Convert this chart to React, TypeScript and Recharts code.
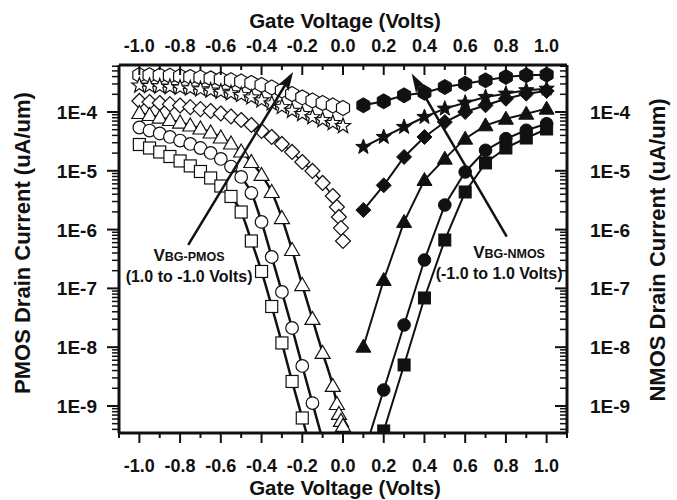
import React from "react";
import { LineChart, Line, XAxis, YAxis, ReferenceLine, ReferenceDot } from "recharts";

const FONT = '"Liberation Sans", Arial, Helvetica, sans-serif';
const INK = "#111111";

// Gate voltage sweeps (V). The PMOS sweep is refined just below 0 V.
const PMOS_V = [
  -1.0, -0.95, -0.9, -0.85, -0.8, -0.75, -0.7, -0.65, -0.6, -0.55, -0.5,
  -0.45, -0.4, -0.35, -0.3, -0.25, -0.2, -0.15, -0.1, -0.05, 0.0,
];
const PMOS_V_FINE = [
  -1.0, -0.95, -0.9, -0.85, -0.8, -0.75, -0.7, -0.65, -0.6, -0.55, -0.5,
  -0.45, -0.4, -0.35, -0.3, -0.25, -0.2, -0.15, -0.1, -0.05, -0.03, -0.02, -0.01, 0.0,
];
const NMOS_V = [0.1, 0.2, 0.3, 0.4, 0.5, 0.6, 0.7, 0.8, 0.9, 1.0];

// PMOS drain current (uA/um), one curve per back-gate bias
const P_SQUARE = [
  2.8e-5, 2.44e-5, 2.09e-5, 1.75e-5, 1.47e-5, 1.21e-5, 9.73e-6, 7.55e-6, 5.51e-6,
  3.66e-6, 1.99e-6, 6.4e-7, 1.94e-7, 4.92e-8, 1.18e-8, 2.61e-9, 6.25e-10, 1.47e-10,
];
const P_CIRCLE = [
  5.45e-5, 4.84e-5, 4.31e-5, 3.76e-5, 3.27e-5, 2.86e-5, 2.44e-5, 2.01e-5, 1.59e-5,
  1.18e-5, 7.85e-6, 4.19e-6, 1.35e-6, 3.42e-7, 8.69e-8, 2.12e-8, 4.79e-9, 1.12e-9, 2.64e-10,
];
const P_TRIANGLE = [
  9.62e-5, 8.89e-5, 8.05e-5, 7.31e-5, 6.62e-5, 5.89e-5, 5.24e-5, 4.48e-5, 3.68e-5,
  2.91e-5, 2.13e-5, 1.41e-5, 8.49e-6, 4.36e-6, 1.57e-6, 4.5e-7, 1.14e-7, 3.02e-8,
  7.97e-9, 2.19e-9, 1.08e-9, 7.31e-10, 5.56e-10, 4.57e-10,
];
const P_DIAMOND = [
  1.54e-4, 1.48e-4, 1.42e-4, 1.36e-4, 1.29e-4, 1.21e-4, 1.12e-4, 1.04e-4, 9.42e-5,
  8.38e-5, 7.31e-5, 6.01e-5, 4.75e-5, 3.76e-5, 2.86e-5, 2.09e-5, 1.41e-5, 9.93e-6,
  6.21e-6, 3.72e-6, 2.42e-6, 1.64e-6, 1.06e-6, 6.4e-7,
];
const P_STAR = [
  2.82e-4, 2.77e-4, 2.72e-4, 2.66e-4, 2.59e-4, 2.52e-4, 2.43e-4, 2.32e-4, 2.21e-4,
  2.08e-4, 1.95e-4, 1.77e-4, 1.58e-4, 1.4e-4, 1.22e-4, 1.05e-4, 9.25e-5, 8.16e-5,
  7.31e-5, 6.5e-5, 5.78e-5,
];
const P_HEXAGON = [
  4.26e-4, 4.23e-4, 4.18e-4, 4.13e-4, 4.05e-4, 3.95e-4, 3.85e-4, 3.73e-4, 3.6e-4,
  3.46e-4, 3.3e-4, 3.11e-4, 2.88e-4, 2.61e-4, 2.32e-4, 2.02e-4, 1.77e-4, 1.57e-4,
  1.42e-4, 1.29e-4, 1.17e-4,
];

// NMOS drain current (uA/um), back gate stepped -1.0 -> 1.0 V
const N_SQUARE = [2.83e-11, 3.76e-10, 4.98e-9, 6.87e-8, 6.65e-7, 4.36e-6, 1.36e-5, 2.44e-5, 3.61e-5, 5.14e-5];
const N_CIRCLE = [1.47e-10, 1.87e-9, 2.39e-8, 3.04e-7, 2.62e-6, 9.55e-6, 2.23e-5, 3.52e-5, 4.89e-5, 6.32e-5];
const N_TRIANGLE = [1.02e-8, 1.39e-7, 1.35e-6, 6.98e-6, 1.61e-5, 3.52e-5, 5.94e-5, 7.69e-5, 9.35e-5, 1.14e-4];
const N_DIAMOND = [2.15e-6, 5.66e-6, 1.72e-5, 3.76e-5, 6.76e-5, 1.0e-4, 1.3e-4, 1.68e-4, 2.05e-4, 2.28e-4];
const N_STAR = [2.54e-5, 3.76e-5, 5.56e-5, 8.22e-5, 1.14e-4, 1.44e-4, 1.8e-4, 2.05e-4, 2.34e-4, 2.49e-4];
const N_HEXAGON = [1.3e-4, 1.52e-4, 1.92e-4, 2.13e-4, 2.66e-4, 3.03e-4, 3.46e-4, 3.94e-4, 4.21e-4, 4.31e-4];

// axes
const V_DOMAIN: [number, number] = [-1.1, 1.1];
const V_TICKS = [
  -1.1, -1.0, -0.9, -0.8, -0.7, -0.6, -0.5, -0.4, -0.3, -0.2, -0.1, 0.0,
  0.1, 0.2, 0.3, 0.4, 0.5, 0.6, 0.7, 0.8, 0.9, 1.0, 1.1,
];
const I_DOMAIN: [number, number] = [3.47e-10, 6.3e-4];
const I_MAJOR = [1e-9, 1e-8, 1e-7, 1e-6, 1e-5, 1e-4];
const I_MINOR: number[] = [];
for (let e = -10; e <= -4; e++) {
  for (let m = 2; m <= 9; m++) {
    const v = m * Math.pow(10, e);
    if (v > I_DOMAIN[0] && v < I_DOMAIN[1]) I_MINOR.push(v);
  }
}
const I_TICKS = [...I_MAJOR, ...I_MINOR].sort((a, b) => a - b);

const toPoints = (vs: number[], is: number[]) => is.map((i, k) => ({ v: vs[k], i }));

type Shape = "square" | "circle" | "triangle" | "diamond" | "star" | "hexagon";

function Marker({ cx, cy, shape, filled }: { cx: number; cy: number; shape: Shape; filled: boolean }) {
  const fill = filled ? INK : "#ffffff";
  const common = { fill, stroke: INK, strokeWidth: filled ? 1 : 1.2 };
  if (shape === "square") {
    const h = 6;
    return <rect x={cx - h} y={cy - h} width={2 * h} height={2 * h} {...common} />;
  }
  if (shape === "circle") return <circle cx={cx} cy={cy} r={6.3} {...common} />;
  if (shape === "triangle") {
    return <polygon points={`${cx},${cy - 7.5} ${cx + 7.5},${cy + 5.5} ${cx - 7.5},${cy + 5.5}`} {...common} />;
  }
  if (shape === "diamond") {
    const r = 7.5;
    return <polygon points={`${cx},${cy - r} ${cx + r},${cy} ${cx},${cy + r} ${cx - r},${cy}`} {...common} />;
  }
  const pts: string[] = [];
  if (shape === "star") {
    for (let k = 0; k < 10; k++) {
      const r = k % 2 === 0 ? 8 : 3.3;
      const a = -Math.PI / 2 + (k * Math.PI) / 5;
      pts.push(`${cx + r * Math.cos(a)},${cy + r * Math.sin(a)}`);
    }
  } else {
    for (let k = 0; k < 6; k++) {
      const a = -Math.PI / 2 + (k * Math.PI) / 3;
      pts.push(`${cx + 7.5 * Math.cos(a)},${cy + 7.5 * Math.sin(a)}`);
    }
  }
  return <polygon points={pts.join(" ")} {...common} />;
}

const markerDot = (shape: Shape, filled: boolean) => (p: any) => {
  const key = `${shape}-${filled ? "n" : "p"}-${p.index}`;
  if (p.cx == null || p.cy == null || !isFinite(p.cx) || !isFinite(p.cy)) return <g key={key} />;
  return (
    <g key={key}>
      <Marker cx={p.cx} cy={p.cy} shape={shape} filled={filled} />
    </g>
  );
};

// bottom ticks point out (down), top ticks point in (also down)
function VTick({ x, y, payload, side }: any) {
  const v = payload.value as number;
  const major = Math.round(v * 10) % 2 === 0;
  const len = major ? 10 : 5;
  return (
    <g>
      <line x1={x} y1={y} x2={x} y2={y + len} stroke={INK} strokeWidth={2} />
      {major && (
        <text
          x={x}
          y={side === "bottom" ? y + 39 : y - 13}
          textAnchor="middle"
          fontFamily={FONT}
          fontWeight="bold"
          fontSize={18}
          fill={INK}
        >
          {v.toFixed(1)}
        </text>
      )}
    </g>
  );
}

// left ticks point out, right ticks point in: both run leftwards
function ITick({ x, y, payload, side }: any) {
  const v = payload.value as number;
  const exp = Math.log10(v);
  const major = Math.abs(exp - Math.round(exp)) < 1e-6;
  const len = major ? 12 : 7;
  return (
    <g>
      <line x1={x} y1={y} x2={x - len} y2={y} stroke={INK} strokeWidth={major ? 2 : 1.5} />
      {major && (
        <text
          x={side === "left" ? x - 22 : x + 23}
          y={y + 7}
          textAnchor={side === "left" ? "end" : "start"}
          fontFamily={FONT}
          fontWeight="bold"
          fontSize={19}
          fill={INK}
        >
          {`1E${Math.round(exp)}`}
        </text>
      )}
    </g>
  );
}

function AxisTitle({ viewBox, side, text }: any) {
  const { x, y, width, height } = viewBox;
  const style = { fontFamily: FONT, fontWeight: "bold" as const, fill: INK };
  if (side === "bottom" || side === "top") {
    return (
      <text x={x + width / 2 + 2} y={side === "bottom" ? y + height - 5 : 27.5} textAnchor="middle" fontSize={20.5} {...style}>
        {text}
      </text>
    );
  }
  const cx = side === "left" ? x + 22 : x + 90;
  const cy = y + height / 2 + (side === "left" ? -6 : 1);
  return (
    <text x={cx} y={cy} dy="0.36em" transform={`rotate(-90 ${cx} ${cy})`} textAnchor="middle" fontSize={22} {...style}>
      {text}
    </text>
  );
}

function Arrow(props: any) {
  const { x1, y1, x2, y2 } = props;
  const a = Math.atan2(y2 - y1, x2 - x1);
  const len = 19;
  const half = 6;
  const ux = Math.cos(a);
  const uy = Math.sin(a);
  const bx = x2 - len * ux;
  const by = y2 - len * uy;
  const nx = -uy * half;
  const ny = ux * half;
  const notchX = bx + 4 * ux;
  const notchY = by + 4 * uy;
  return (
    <g>
      <line x1={x1} y1={y1} x2={notchX} y2={notchY} stroke={INK} strokeWidth={2.5} />
      <polygon
        points={`${x2},${y2} ${bx + nx},${by + ny} ${notchX},${notchY} ${bx - nx},${by - ny}`}
        fill={INK}
      />
    </g>
  );
}

function BiasNote({ viewBox, device, range, dx1 = 0, dx2 = 0 }: any) {
  const cx = viewBox.x + viewBox.width / 2;
  const cy = viewBox.y + viewBox.height / 2;
  return (
    <g fontFamily={FONT} fontWeight="bold" fill={INK}>
      <text x={cx + dx1} y={cy} textAnchor="middle">
        <tspan fontSize={17}>V</tspan>
        <tspan fontSize={12.5}>{`BG-${device}`}</tspan>
      </text>
      <text x={cx + dx2} y={cy + 21} textAnchor="middle" fontSize={16}>
        {range}
      </text>
    </g>
  );
}

const pmosSeries: { name: string; shape: Shape; v: number[]; i: number[] }[] = [
  { name: "p-hex", shape: "hexagon", v: PMOS_V, i: P_HEXAGON },
  { name: "p-star", shape: "star", v: PMOS_V, i: P_STAR },
  { name: "p-diamond", shape: "diamond", v: PMOS_V_FINE, i: P_DIAMOND },
  { name: "p-triangle", shape: "triangle", v: PMOS_V_FINE, i: P_TRIANGLE },
  { name: "p-circle", shape: "circle", v: PMOS_V, i: P_CIRCLE },
  { name: "p-square", shape: "square", v: PMOS_V, i: P_SQUARE },
];

const nmosSeries: { name: string; shape: Shape; i: number[] }[] = [
  { name: "n-square", shape: "square", i: N_SQUARE },
  { name: "n-circle", shape: "circle", i: N_CIRCLE },
  { name: "n-triangle", shape: "triangle", i: N_TRIANGLE },
  { name: "n-diamond", shape: "diamond", i: N_DIAMOND },
  { name: "n-star", shape: "star", i: N_STAR },
  { name: "n-hex", shape: "hexagon", i: N_HEXAGON },
];

// the three lowest PMOS curves carry a smooth fitted line drawn over the open markers
const fitted = new Set(["p-triangle", "p-circle", "p-square"]);

export default function App() {
  return (
    <div style={{ position: "absolute", left: 0, top: 0, width: 677, height: 500, background: "#fff" }}>
      <LineChart width={677} height={500} margin={{ top: 0, right: 0, bottom: 0, left: 0 }}>
        <XAxis
          xAxisId="bottom"
          type="number"
          dataKey="v"
          domain={V_DOMAIN}
          allowDataOverflow
          ticks={V_TICKS}
          interval={0}
          height={67}
          tickSize={0}
          tickMargin={0}
          tickLine={false}
          axisLine={{ stroke: INK, strokeWidth: 3 }}
          tick={<VTick side="bottom" />}
          label={<AxisTitle side="bottom" text="Gate Voltage (Volts)" />}
        />
        <XAxis
          xAxisId="top"
          orientation="top"
          type="number"
          dataKey="v"
          domain={V_DOMAIN}
          allowDataOverflow
          ticks={V_TICKS}
          interval={0}
          height={65}
          tickSize={0}
          tickMargin={0}
          tickLine={false}
          axisLine={{ stroke: INK, strokeWidth: 3 }}
          tick={<VTick side="top" />}
          label={<AxisTitle side="top" text="Gate Voltage (Volts)" />}
        />
        <YAxis
          yAxisId="left"
          scale="log"
          type="number"
          domain={I_DOMAIN}
          allowDataOverflow
          ticks={I_TICKS}
          interval={0}
          width={119}
          tickSize={0}
          tickMargin={0}
          tickLine={false}
          axisLine={{ stroke: INK, strokeWidth: 3 }}
          tick={<ITick side="left" />}
          label={<AxisTitle side="left" text="PMOS Drain Current (uA/um)" />}
        />
        <YAxis
          yAxisId="right"
          orientation="right"
          scale="log"
          type="number"
          domain={I_DOMAIN}
          allowDataOverflow
          ticks={I_TICKS}
          interval={0}
          width={110}
          tickSize={0}
          tickMargin={0}
          tickLine={false}
          axisLine={{ stroke: INK, strokeWidth: 3 }}
          tick={<ITick side="right" />}
          label={<AxisTitle side="right" text="NMOS Drain Current (uA/um)" />}
        />

        {pmosSeries.map((s) => (
          <Line
            key={s.name}
            xAxisId="bottom"
            yAxisId="left"
            data={toPoints(s.v, s.i)}
            dataKey="i"
            type="linear"
            stroke={fitted.has(s.name) ? "none" : INK}
            strokeWidth={1.5}
            dot={markerDot(s.shape, false)}
            activeDot={false}
            isAnimationActive={false}
          />
        ))}
        {pmosSeries
          .filter((s) => fitted.has(s.name))
          .map((s) => (
            <Line
              key={`${s.name}-fit`}
              xAxisId="bottom"
              yAxisId="left"
              data={toPoints(s.v, s.i)}
              dataKey="i"
              type="monotone"
              stroke={INK}
              strokeWidth={2.5}
              dot={false}
              activeDot={false}
              isAnimationActive={false}
            />
          ))}

        {/* NMOS curves are read against the top / right axes (same ranges) */}
        {nmosSeries.map((s) => (
          <Line
            key={s.name}
            xAxisId="top"
            yAxisId="right"
            data={toPoints(NMOS_V, s.i)}
            dataKey="i"
            type="linear"
            stroke={INK}
            strokeWidth={2}
            dot={markerDot(s.shape, true)}
            activeDot={false}
            isAnimationActive={false}
          />
        ))}

        <ReferenceLine
          xAxisId="bottom"
          yAxisId="left"
          segment={[
            { x: -0.76, y: 5.5e-7 },
            { x: -0.245, y: 4.8e-4 },
          ]}
          shape={Arrow}
          zIndex={1500}
        />
        <ReferenceLine
          xAxisId="top"
          yAxisId="right"
          segment={[
            { x: 0.804, y: 7.6e-7 },
            { x: 0.337, y: 4.5e-4 },
          ]}
          shape={Arrow}
          zIndex={1500}
        />
        <ReferenceDot
          xAxisId="bottom"
          yAxisId="left"
          x={-0.756}
          y={2.92e-7}
          r={0}
          fill="none"
          stroke="none"
          zIndex={1500}
          label={<BiasNote device="PMOS" range="(1.0 to -1.0 Volts)" />}
        />
        <ReferenceDot
          xAxisId="top"
          yAxisId="right"
          x={0.791}
          y={3.29e-7}
          r={0}
          fill="none"
          stroke="none"
          zIndex={1500}
          label={<BiasNote device="NMOS" range="(-1.0 to 1.0 Volts)" dx1={5} dx2={-5} />}
        />
      </LineChart>
    </div>
  );
}
